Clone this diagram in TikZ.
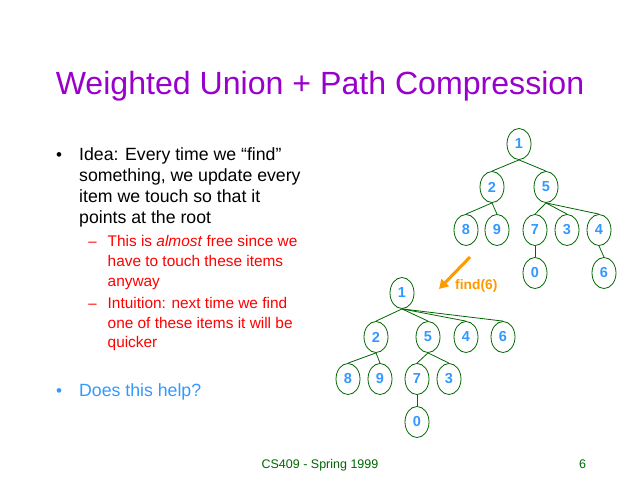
\documentclass[tikz,border=0pt]{standalone}
\usepackage{fontspec}
\setmainfont{Liberation Sans}
\usetikzlibrary{shapes.geometric,arrows.meta}
\definecolor{titlepurple}{HTML}{9900CC}
\definecolor{treegreen}{HTML}{006600}
\definecolor{nodeblue}{HTML}{3399FF}
\definecolor{subred}{HTML}{FF0000}
\definecolor{findorange}{HTML}{FF9900}
\definecolor{footgreen}{HTML}{006600}
\begin{document}
\begin{tikzpicture}[x=1pt,y=-1pt,
  tn/.style={ellipse,draw=treegreen,line width=0.8pt,minimum width=24pt,minimum height=31pt,inner sep=0pt,
    text=nodeblue,font=\fontsize{14.5}{14}\selectfont\bfseries},
  te/.style={draw=treegreen,line width=0.8pt},
  lvlone/.style={anchor=base west,inner sep=0pt,font=\fontsize{17.7}{20}\selectfont},
  lvltwo/.style={anchor=base west,inner sep=0pt,text=subred,font=\fontsize{15.4}{17}\selectfont},
]
\useasboundingbox (0,0) rectangle (640,480);
\fill[white] (0,0) rectangle (640,480);

% title
\node[anchor=base,inner sep=0pt,text=titlepurple,font=\fontsize{32.1}{34}\selectfont] (title) at (320,94.3) {Weighted Union + Path Compression};

% bullets
\node[anchor=base,inner sep=0pt,font=\fontsize{17}{20}\selectfont] (b1) at (59,160.7) {•};
\node[lvlone] (l1) at (79,160.7) {Idea: Every time we “find”};
\node[lvlone] (l2) at (79,181.5) {something, we update every};
\node[lvlone] (l3) at (79,202.3) {item we touch so that it};
\node[lvlone] (l4) at (79,223.1) {points at the root};

\node[anchor=base,inner sep=0pt,text=subred,font=\fontsize{15}{17}\selectfont] (d1) at (92.5,246) {–};
\node[lvltwo] (s1) at (107.5,246) {This is \textit{almost} free since we};
\node[lvltwo] (s2) at (107.5,266) {have to touch these items};
\node[lvltwo] (s3) at (107.5,286) {anyway};
\node[anchor=base,inner sep=0pt,text=subred,font=\fontsize{15}{17}\selectfont] (d2) at (92.5,308) {–};
\node[lvltwo] (s4) at (107.5,308) {Intuition: next time we find};
\node[lvltwo] (s5) at (107.5,328) {one of these items it will be};
\node[lvltwo] (s6) at (107.5,347.5) {quicker};

\node[anchor=base,inner sep=0pt,text=nodeblue,font=\fontsize{17}{20}\selectfont] (b2) at (59,396) {•};
\node[lvlone,text=nodeblue] (q) at (79,396) {Does this help?};

% top tree
\node[tn] (t1) at (519,144) {1};
\node[tn] (t2) at (492,187) {2};
\node[tn] (t5) at (546,187) {5};
\node[tn] (t8) at (466,230) {8};
\node[tn] (t9) at (497,230) {9};
\node[tn] (t7) at (535,230) {7};
\node[tn] (t3) at (567,230) {3};
\node[tn] (t4) at (599,230) {4};
\node[tn] (t0) at (535,273) {0};
\node[tn] (t6) at (604,273) {6};
\draw[te] (t1.south) -- (t2.north);
\draw[te] (t1.south) -- (t5.north);
\draw[te] (t2.south) -- (t8.north);
\draw[te] (t2.south) -- (t9.north);
\draw[te] (t5.south) -- (t7.north);
\draw[te] (t5.south) -- (t3.north);
\draw[te] (t5.south) -- (t4.north);
\draw[te] (t7.south) -- (t0.north);
\draw[te] (t4.south) -- (t6.north);

% arrow
\coordinate (astart) at (470,257);
\coordinate (aend) at (439,289);
\draw[findorange,line width=3pt,-{Triangle[length=9pt,width=10pt]}] (astart) -- (aend);
\node[anchor=west,inner sep=0pt,text=findorange,font=\fontsize{13.8}{14}\selectfont\bfseries] (find) at (455,286) {find(6)};

% bottom tree
\node[tn] (u1) at (402,293) {1};
\node[tn] (u2) at (376,337) {2};
\node[tn] (u5) at (428,337) {5};
\node[tn] (u4) at (466,337) {4};
\node[tn] (u6) at (503,337) {6};
\node[tn] (u8) at (348,379) {8};
\node[tn] (u9) at (380,379) {9};
\node[tn] (u7) at (417,379) {7};
\node[tn] (u3) at (449,379) {3};
\node[tn] (u0) at (417,422) {0};
\draw[te] (u1.south) -- (u2.north);
\draw[te] (u1.south) -- (u5.north);
\draw[te] (u1.south) -- (u4.north);
\draw[te] (u1.south) -- (u6.north);
\draw[te] (u2.south) -- (u8.north);
\draw[te] (u2.south) -- (u9.north);
\draw[te] (u5.south) -- (u7.north);
\draw[te] (u5.south) -- (u3.north);
\draw[te] (u7.south) -- (u0.north);

% footer
\node[anchor=base,inner sep=0pt,text=footgreen,font=\fontsize{12.5}{14}\selectfont] (foot) at (320,468.3) {CS409 - Spring 1999};
\node[anchor=base,inner sep=0pt,text=footgreen,font=\fontsize{12.5}{14}\selectfont] (pg) at (582.5,468.3) {6};
\end{tikzpicture}
\end{document}
